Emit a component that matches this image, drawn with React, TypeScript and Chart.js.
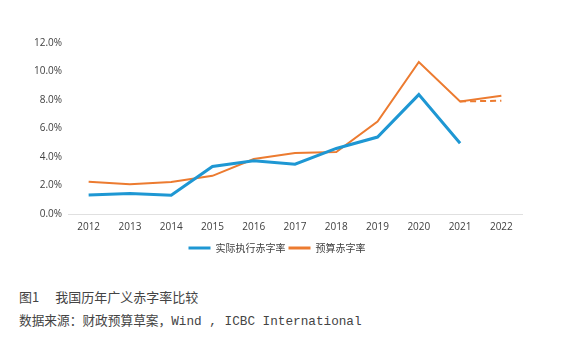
import React, { useEffect, useRef } from "react";
import { Chart, registerables } from "chart.js";

Chart.register(...registerables);

const years = ["2012", "2013", "2014", "2015", "2016", "2017", "2018", "2019", "2020", "2021", "2022"];
const actualDeficit = [1.33, 1.44, 1.32, 3.34, 3.74, 3.5, 4.6, 5.4, 8.38, 4.97, null];
const budgetDeficit = [2.27, 2.08, 2.25, 2.68, 3.86, 4.28, 4.35, 6.48, 10.67, 7.9, 8.3];
const budgetAlt = [null, null, null, null, null, null, null, null, null, 7.9, 7.95];
const seriesNames = ["实际执行赤字率", "预算赤字率"];
const caption = "图1\u3000 我国历年广义赤字率比较";
const source = "数据来源：财政预算草案，Wind , ICBC International";

const BLUE = "#1E97D3";
const ORANGE = "#EC7B30";

const legendShift = {
  id: "legendShift",
  afterLayout(chart: any) {
    if (chart.legend) {
      chart.legend.left += 12;
      chart.legend.right += 12;
    }
  },
};

export default function App() {
  const ref = useRef<HTMLCanvasElement | null>(null);
  useEffect(() => {
    if (!ref.current) return;
    const chart = new Chart(ref.current, {
      type: "line",
      data: {
        labels: years,
        datasets: [
          {
            label: seriesNames[0],
            data: actualDeficit,
            borderColor: BLUE,
            backgroundColor: BLUE,
            borderWidth: 3,
            pointRadius: 0,
            tension: 0,
          },
          {
            label: seriesNames[1],
            data: budgetDeficit,
            borderColor: ORANGE,
            backgroundColor: ORANGE,
            borderWidth: 2,
            pointRadius: 0,
            tension: 0,
          },
          {
            label: "alt",
            data: budgetAlt,
            borderColor: ORANGE,
            backgroundColor: ORANGE,
            borderWidth: 2,
            borderDash: [6, 4],
            pointRadius: 0,
            tension: 0,
          },
        ],
      },
      plugins: [legendShift],
      options: {
        animation: false,
        responsive: false,
        maintainAspectRatio: false,
        layout: { padding: { left: 8, right: 39, top: 43, bottom: 0 } },
        plugins: {
          tooltip: { enabled: false },
          legend: {
            position: "bottom",
            labels: {
              generateLabels: (c: any) =>
                (Chart.defaults.plugins.legend.labels.generateLabels as any)(c)
                  .filter((l: any) => l.text !== "alt")
                  .map((l: any) => ({ ...l, lineWidth: 0 })),
              boxWidth: 22,
              boxHeight: 3,
              color: "#404040",
              font: { family: "'Noto Sans CJK SC'", size: 10, lineHeight: 1 },
              padding: 3,
            },
          },
        },
        scales: {
          x: {
            offset: true,
            grid: { display: false, drawTicks: false },
            border: { display: true, color: "#E0E0E0", width: 1 },
            ticks: {
              color: "#404040",
              font: { family: "'Open Sans'", size: 10, lineHeight: 1 },
              padding: 8,
              maxRotation: 0,
            },
          },
          y: {
            min: 0,
            max: 12,
            afterFit: (scale: any) => {
              scale.width = 60;
            },
            grid: { display: false, drawTicks: false },
            border: { display: false },
            ticks: {
              stepSize: 2,
              color: "#404040",
              font: { family: "'Open Sans'", size: 10 },
              padding: 6,
              callback: (v: any) => Number(v).toFixed(1) + "%",
            },
          },
        },
      },
    });
    return () => chart.destroy();
  }, []);

  return (
    <div style={{ position: "absolute", left: 0, top: 0, width: 561, height: 347, background: "#fff" }}>
      <canvas ref={ref} width={561} height={263} style={{ position: "absolute", left: 0, top: 0 }} />
      <div
        style={{
          position: "absolute",
          left: 19,
          top: 288,
          fontSize: 13,
          color: "#444",
          fontFamily: "'Noto Sans CJK SC', 'Liberation Mono', monospace",
          lineHeight: "18px",
          whiteSpace: "pre",
        }}
      >
        {caption}
      </div>
      <div
        style={{
          position: "absolute",
          left: 19,
          top: 313,
          fontSize: 12.7,
          color: "#444",
          fontFamily: "'Liberation Mono', 'Noto Sans CJK SC', monospace",
          lineHeight: "18px",
          whiteSpace: "pre",
        }}
      >
        {source}
      </div>
    </div>
  );
}
